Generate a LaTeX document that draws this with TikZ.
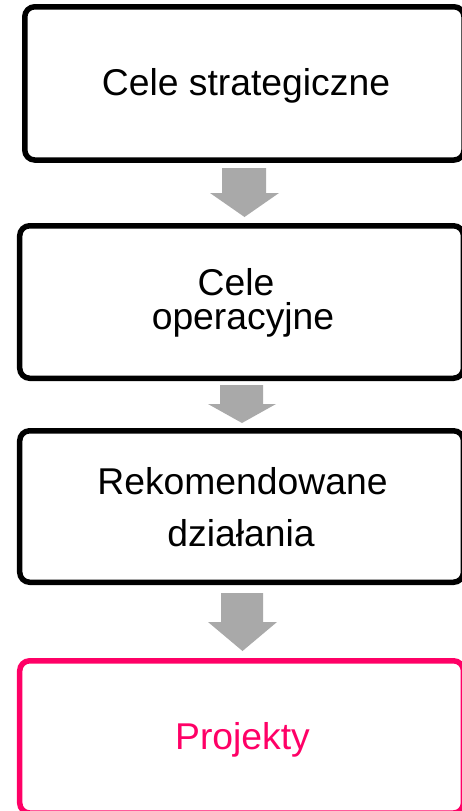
\documentclass[tikz,border=0pt]{standalone}
\usepackage{fontspec}
\setmainfont{Liberation Sans}
\definecolor{pinkc}{HTML}{FF0066}
\definecolor{arrowgray}{HTML}{A9A9A9}
\tikzset{
  box/.style={draw=black, line width=5.5pt, rounded corners=10pt, fill=none, inner sep=0pt},
  pinkbox/.style={box, draw=pinkc},
  txt/.style={inner sep=0pt, anchor=base, font=\fontsize{37.3}{40}\selectfont},
  arrowfill/.style={fill=arrowgray, draw=none}
}
\begin{document}
\begin{tikzpicture}[x=1pt, y=-1pt]
\useasboundingbox (0,0) rectangle (462,811);
% boxes
\node[box, minimum width=439.25pt, minimum height=153.25pt] (b1) at (244.4,83.4) {};
\node[box, minimum width=443.75pt, minimum height=152.5pt] (b2) at (241.6,302) {};
\node[box, minimum width=443.75pt, minimum height=151.5pt] (b3) at (241.6,506.5) {};
\node[pinkbox, minimum width=443.75pt, minimum height=152.25pt] (b4) at (241.6,736.9) {};
% texts
\node[txt] (t1) at (246,95) {Cele strategiczne};
\node[txt] (t2a) at (236,295) {Cele};
\node[txt] (t2b) at (243,329) {operacyjne};
\node[txt] (t3a) at (242.5,494) {Rekomendowane};
\node[txt] (t3b) at (241,546) {działania};
\node[txt, text=pinkc] (t4) at (242.5,749) {Projekty};
% block arrows
\fill[arrowfill] (222,168) -- (266,168) -- (266,193) -- (279,193) -- (244.5,217) -- (210,193) -- (222,193) -- cycle;
\fill[arrowfill] (220,385) -- (263,385) -- (263,404) -- (276,404) -- (242,423) -- (208,404) -- (220,404) -- cycle;
\fill[arrowfill] (221,593) -- (263,593) -- (263,622) -- (277,622) -- (242.5,651) -- (208,622) -- (221,622) -- cycle;
\end{tikzpicture}
\end{document}
